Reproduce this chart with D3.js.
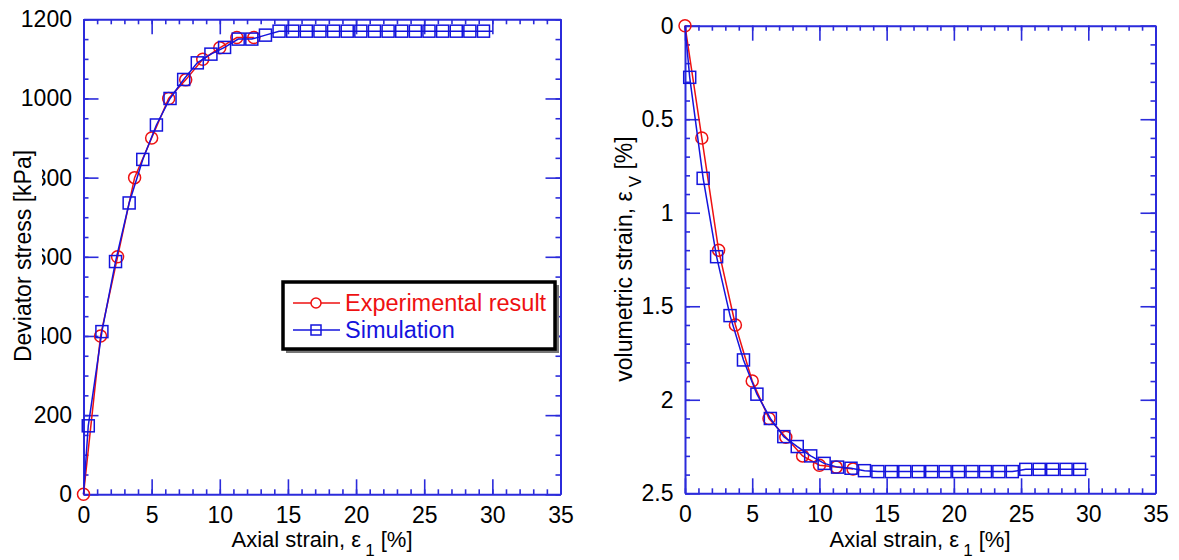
<!DOCTYPE html>
<html>
<head>
<meta charset="utf-8">
<script src="https://cdn.jsdelivr.net/npm/d3@7"></script>
<style>
  body { margin: 0; background: white; }
  svg { display: block; font-family: "Liberation Sans", Arial, sans-serif; }
</style>
</head>
<body>
<div id="chart"></div>
<script>
// tick labels
var strainTicks     = [0, 5, 10, 15, 20, 25, 30, 35];
var deviatorTicks   = [0, 200, 400, 600, 800, 1000, 1200];
var volumetricTicks = [0, 0.5, 1, 1.5, 2, 2.5];

// experimental result (red circles)
var expStrain     = [0, 1.25, 2.5, 3.75, 5, 6.25, 7.5, 8.75, 10, 11.25, 12.5];
var expDeviator   = [0, 400, 600, 800, 900, 1000, 1047, 1099, 1128, 1154, 1154];
var expVolumetric = [0, 0.6, 1.2, 1.6, 1.9, 2.1, 2.2, 2.3, 2.35, 2.36, 2.37];

// simulation (blue squares) - first and last point carry no marker
var simStrain     = [0, 0.35, 1.35, 2.35, 3.35, 4.35, 5.35, 6.35, 7.35, 8.35, 9.35, 10.35,
                     11.35, 12.35, 13.35, 14.35, 15.35, 16.35, 17.35, 18.35, 19.35, 20.35,
                     21.35, 22.35, 23.35, 24.35, 25.35, 26.35, 27.35, 28.35, 29.35, 30];
var simDeviator   = [0, 173, 411, 588, 736, 846, 933, 1000, 1048, 1090, 1112, 1129,
                     1150, 1150, 1160, 1170, 1170, 1170, 1170, 1170, 1170, 1170,
                     1170, 1170, 1170, 1170, 1170, 1170, 1170, 1170, 1170, 1170];
var simVolumetric = [0, 0.276, 0.816, 1.235, 1.55, 1.787, 1.97, 2.10, 2.197, 2.25, 2.30, 2.34,
                     2.36, 2.366, 2.379, 2.384, 2.384, 2.384, 2.384, 2.384, 2.384, 2.384,
                     2.384, 2.384, 2.384, 2.384, 2.372, 2.372, 2.372, 2.372, 2.372, 2.372];

var seriesNames = ["Experimental result", "Simulation"];

// other variables
var width     = 1179;
var height    = 560;
var fontSize  = 23;
var axisColor = "#2b2bdb";
var redColor  = "#ee1111";
var blueColor = "#1414dd";

var canvas = d3.select("#chart")
              .append("svg")
              .attr("width", width)
              .attr("height", height);

canvas.append("rect")
      .attr("width", width)
      .attr("height", height)
      .style("fill", "white");

// scales for the two panels
var xLeft  = d3.scaleLinear().domain([0, 35]).range([83.5, 560.5]);
var yLeft  = d3.scaleLinear().domain([0, 1200]).range([494.3, 19.3]);
var xRight = d3.scaleLinear().domain([0, 35]).range([685, 1155.5]);
var yRight = d3.scaleLinear().domain([0, 2.5]).range([25.7, 493.3]);

// draws the four framing axes, major ticks long, minor ticks short, all pointing inward
function drawAxes(g, x, y, xTicks, yTicks, yMinorCount) {
  var top    = d3.min(y.range());
  var bottom = d3.max(y.range());
  var left   = x.range()[0];
  var right  = x.range()[1];
  var xMinor = x.ticks(35);
  var yMinor = y.ticks(yMinorCount);

  var specs = [
    [d3.axisBottom, x, "translate(0," + bottom + ")", true],
    [d3.axisTop,    x, "translate(0," + top + ")",    false],
    [d3.axisLeft,   y, "translate(" + left + ",0)",   true],
    [d3.axisRight,  y, "translate(" + right + ",0)",  false]
  ];

  specs.forEach(function(s) {
    var isX   = (s[1] === x);
    var major = s[0](s[1])
                  .tickValues(isX ? xTicks : yTicks)
                  .tickSizeInner(-15)
                  .tickSizeOuter(0)
                  .tickPadding(isX ? 12 : 11.5)
                  .tickFormat(s[3] ? function(d) { return d; } : "");
    var minor = s[0](s[1])
                  .tickValues(isX ? xMinor : yMinor)
                  .tickSizeInner(-5)
                  .tickSizeOuter(0)
                  .tickFormat("");

    g.append("g")
     .attr("transform", s[2])
     .call(minor)
     .call(function(a) { a.select(".domain").remove(); })
     .selectAll("line")
       .style("stroke", axisColor)
       .style("stroke-width", 1.6);

    var ag = g.append("g")
              .attr("transform", s[2])
              .call(major)
              .attr("font-size", fontSize)
              .attr("font-family", null);
    ag.selectAll("line").style("stroke", axisColor).style("stroke-width", 1.6);
    ag.select(".domain").style("stroke", axisColor).style("stroke-width", 2);
    ag.selectAll("text").style("fill", "black");
  });
}

// one data series: a polyline plus markers
function drawSeries(g, x, y, xs, ys, color, marker, skipEnds) {
  var pts  = d3.zip(xs, ys);
  var line = d3.line()
               .x(function(d) { return x(d[0]); })
               .y(function(d) { return y(d[1]); });

  g.append("path")
   .datum(pts)
   .attr("d", line)
   .style("fill", "none")
   .style("stroke", color)
   .style("stroke-width", 1.5);

  var marked = skipEnds ? pts.slice(1, -1) : pts;

  if (marker === "circle") {
    g.selectAll(null)
     .data(marked)
     .enter()
       .append("circle")
       .attr("cx", function(d) { return x(d[0]); })
       .attr("cy", function(d) { return y(d[1]); })
       .attr("r", 6)
       .style("fill", "none")
       .style("stroke", color)
       .style("stroke-width", 1.5);
  } else {
    g.selectAll(null)
     .data(marked)
     .enter()
       .append("rect")
       .attr("x", function(d) { return x(d[0]) - 6; })
       .attr("y", function(d) { return y(d[1]) - 6; })
       .attr("width", 12)
       .attr("height", 12)
       .style("fill", "none")
       .style("stroke", color)
       .style("stroke-width", 1.5);
  }
}

// axis title with a subscript, optionally rotated and sat on a white box
function axisTitle(g, cx, cy, main, sub, tail, rotated) {
  var tg = g.append("g")
            .attr("transform", "translate(" + cx + "," + cy + ")" + (rotated ? " rotate(-90)" : ""));
  var bgRect = tg.append("rect").style("fill", "white");
  var t = tg.append("text")
            .attr("text-anchor", "middle")
            .attr("font-size", rotated ? fontSize : 22)
            .style("fill", "black");
  t.append("tspan").text(main);
  if (sub) {
    t.append("tspan").attr("dx", 4).attr("dy", 9).attr("font-size", 17).text(sub);
    t.append("tspan").attr("dy", -9).text(tail);
  }
  if (rotated) {
    var bb = t.node().getBBox();
    bgRect.attr("x", bb.x - 10)
          .attr("y", -22)
          .attr("width", bb.width + 20)
          .attr("height", 33);
  }
}

// ---------- left panel: deviator stress ----------
var leftG = canvas.append("g");
drawAxes(leftG, xLeft, yLeft, strainTicks, deviatorTicks, 24);
drawSeries(leftG, xLeft, yLeft, expStrain, expDeviator, redColor, "circle", false);
drawSeries(leftG, xLeft, yLeft, simStrain, simDeviator, blueColor, "square", true);
axisTitle(leftG, 322, 547, "Axial strain, \u03b5", "1", " [%]", false);
axisTitle(leftG, 31, 256, "Deviator stress [kPa]", null, null, true);

// legend
var legend = leftG.append("g").attr("transform", "translate(283,282)");
legend.append("rect")
      .attr("x", 3).attr("y", 3)
      .attr("width", 273).attr("height", 68)
      .style("fill", "#777");
legend.append("rect")
      .attr("width", 272).attr("height", 67)
      .style("fill", "white")
      .style("stroke", "black")
      .style("stroke-width", 3.5);

var legendItems = legend.selectAll(".item")
                    .data(seriesNames)
                    .enter()
                      .append("g")
                      .attr("transform", function(d, i) { return "translate(0," + (21 + i * 27) + ")"; });

legendItems.append("line")
           .attr("x1", 10).attr("x2", 57)
           .style("stroke", function(d, i) { return i === 0 ? redColor : blueColor; })
           .style("stroke-width", 1.5);
legendItems.filter(function(d, i) { return i === 0; })
           .append("circle")
           .attr("cx", 33).attr("r", 5)
           .style("fill", "white").style("stroke", redColor).style("stroke-width", 1.5);
legendItems.filter(function(d, i) { return i === 1; })
           .append("rect")
           .attr("x", 28).attr("y", -5).attr("width", 10).attr("height", 10)
           .style("fill", "none").style("stroke", blueColor).style("stroke-width", 1.5);
legendItems.append("text")
           .attr("x", 62).attr("y", 8)
           .attr("font-size", 23.5)
           .style("fill", function(d, i) { return i === 0 ? redColor : blueColor; })
           .text(function(d) { return d; });

// ---------- right panel: volumetric strain ----------
var rightG = canvas.append("g");
drawAxes(rightG, xRight, yRight, strainTicks, volumetricTicks, 25);
drawSeries(rightG, xRight, yRight, expStrain, expVolumetric, redColor, "circle", false);
drawSeries(rightG, xRight, yRight, simStrain, simVolumetric, blueColor, "square", true);
axisTitle(rightG, 920, 547, "Axial strain, \u03b5", "1", " [%]", false);
axisTitle(rightG, 632, 259, "volumetric strain, \u03b5", "V", " [%]", true);
</script>
</body>
</html>
